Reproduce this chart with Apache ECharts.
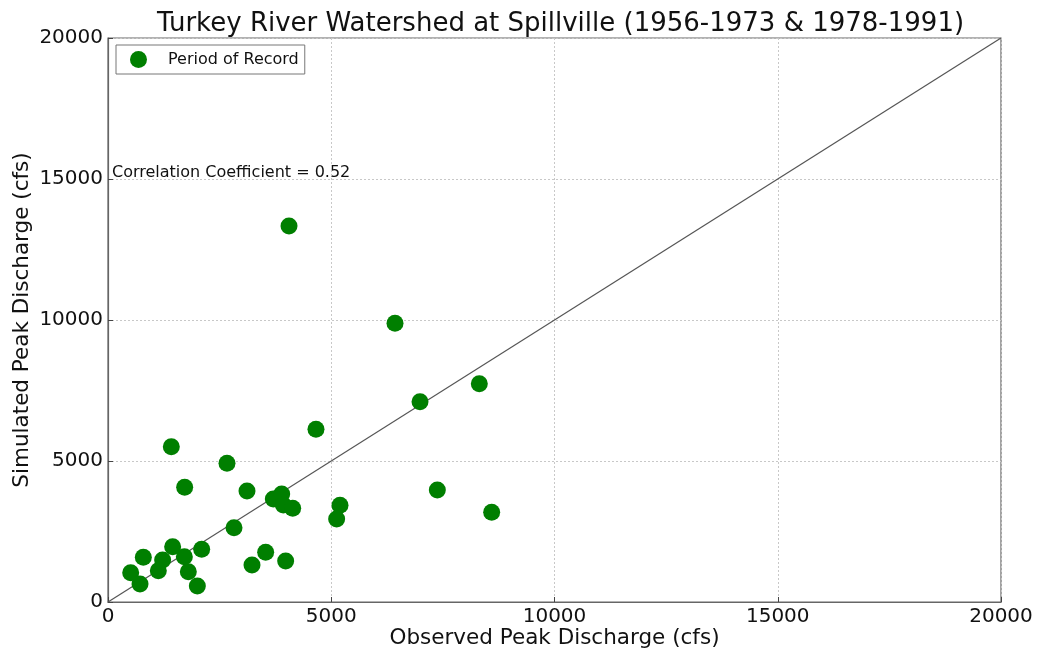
<!DOCTYPE html>
<html>
<head>
<meta charset="utf-8">
<script src="https://cdn.jsdelivr.net/npm/echarts@6/dist/echarts.min.js"></script>
<style>html,body{margin:0;padding:0;background:#fff;}#c{width:1039px;height:651px;}</style>
</head>
<body>
<div id="c"></div>
<script>
const observed = [4658,1418,2665,1717,3113,3703,3890,3927,4136,5196,5121,2822,1448,791,2098,1224,1710,508,1127,717,1799,2001,3531,3225,3979,4054,6428,8316,6988,7376,8593];
const simulated = [6124,5507,4918,4067,3936,3652,3830,3440,3322,3428,2943,2635,1962,1584,1868,1489,1607,1040,1111,638,1076,567,1762,1312,1454,13333,9883,7741,7103,3972,3181];
const oneToOne = [[0,0],[20000,20000]];
const titleText = 'Turkey River Watershed at Spillville (1956-1973 & 1978-1991)';
const corrText = 'Correlation Coefficient = 0.52';

const pts = observed.map((x,i)=>[x, simulated[i]]);
const font = 'DejaVu Sans';
const chart = echarts.init(document.getElementById('c'), null, {renderer:'canvas'});
const axisCommon = {
  type:'value', min:0, max:20000, interval:5000,
  nameLocation:'middle', nameMoveOverlap:false,
  nameTextStyle:{fontFamily:font, fontSize:21.5, color:'#111'},
  axisLine:{show:true, lineStyle:{color:'#666', width:1.2}},
  axisTick:{show:true, inside:true, length:5, lineStyle:{color:'#444'}},
  axisLabel:{fontFamily:font, fontSize:20, color:'#111', margin:5, formatter:(v)=>String(v)},
  splitLine:{show:true, lineStyle:{color:'#c8c8c8', type:[2,2], width:1}}
};
chart.setOption({
  animation:false,
  backgroundColor:'#ffffff',
  title:{text:titleText, left:152, top:6, textStyle:{fontFamily:font, fontSize:26, fontWeight:'normal', color:'#111'}},
  grid:{left:108, top:38, width:893, height:564, outerBoundsMode:'none', containLabel:false, show:true, borderColor:'#666', borderWidth:1.2, backgroundColor:'transparent'},
  legend:{data:['Period of Record'], left:116, top:45, orient:'vertical', icon:'circle', itemWidth:17, itemHeight:17, itemGap:4,
    padding:[6,6,6,14], borderColor:'#777', borderWidth:1, textStyle:{fontFamily:font, fontSize:16, color:'#111', padding:[0,0,0,16]}},
  xAxis:Object.assign({}, axisCommon, {name:'Observed Peak Discharge (cfs)', nameGap:25}),
  yAxis:Object.assign({}, axisCommon, {name:'Simulated Peak Discharge (cfs)', nameGap:75}),
  series:[
    {name:'1:1', type:'line', data:oneToOne, symbol:'none', silent:true, lineStyle:{color:'#555', width:1.2}, z:1},
    {name:'Period of Record', type:'scatter', data:pts, symbol:'circle', symbolSize:17, itemStyle:{color:'#007f00', opacity:1}, z:3}
  ],
  graphic:[
    {type:'text', left:112, top:165, style:{text:corrText, fontFamily:font, fontSize:16, fill:'#111'}}
  ]
});
</script>
</body>
</html>
